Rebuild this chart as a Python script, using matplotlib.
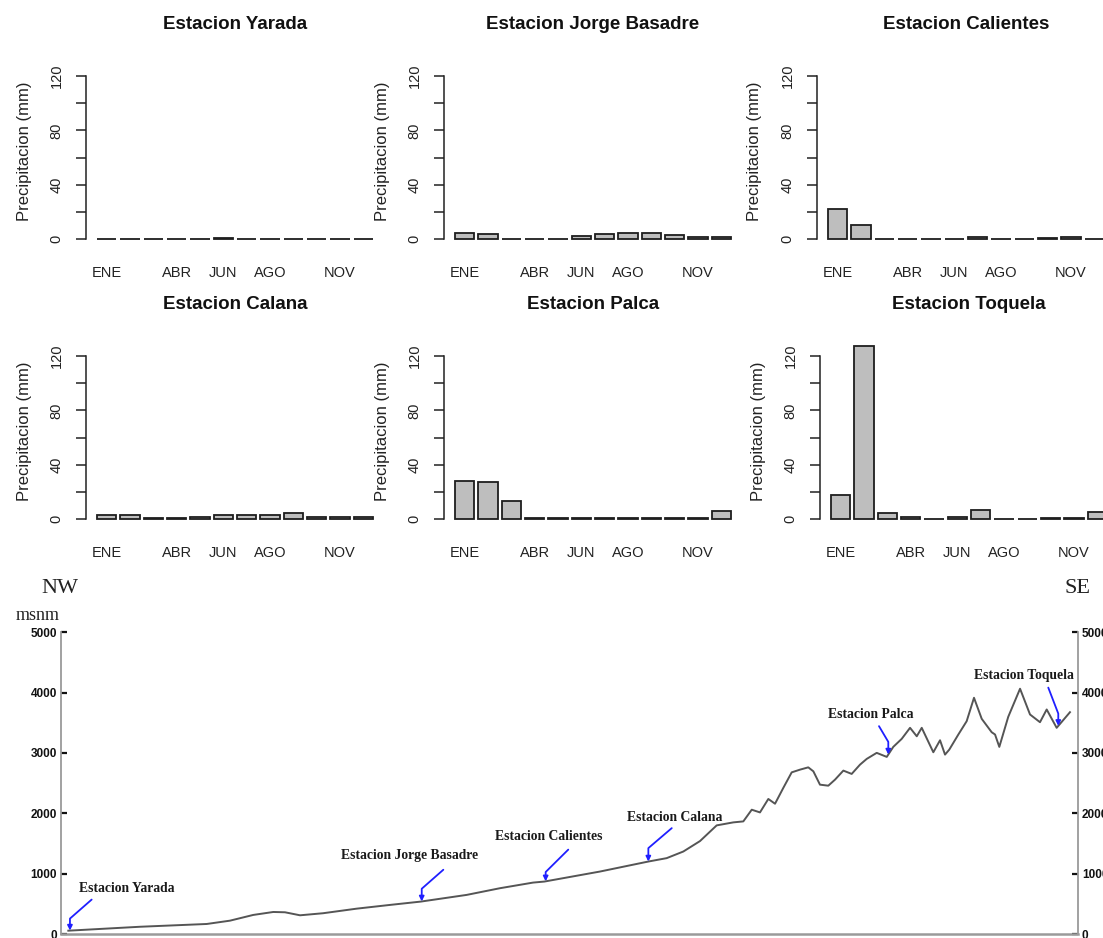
import numpy as np
import matplotlib
matplotlib.use("Agg")
import matplotlib.pyplot as plt

W, H = 1103, 938

months = ['ENE', 'FEB', 'MAR', 'ABR', 'MAY', 'JUN', 'JUL', 'AGO', 'SET', 'OCT', 'NOV', 'DIC']
shown_months = ['ENE', 'ABR', 'JUN', 'AGO', 'NOV']

# mean monthly precipitation (mm)
yarada = [0.2, 0.5, 0.5, 0.3, 0.5, 1.2, 0.5, 0.5, 0.5, 0.5, 0.2, 0.2]
jorge_basadre = [4.4, 4.2, 0.5, 0.5, 0.5, 2.5, 3.9, 4.4, 4.4, 2.9, 1.5, 1.5]
calientes = [22.5, 10.5, 0.3, 0.3, 0.3, 0.3, 1.5, 0.3, 0.3, 0.7, 1.5, 0.5]
calana = [3.4, 3.1, 0.7, 0.7, 1.5, 3.1, 3.3, 3.3, 4.4, 1.5, 1.5, 1.5]
palca = [28.4, 27.4, 13.7, 1.0, 1.0, 1.0, 1.0, 1.0, 1.0, 1.0, 1.0, 6.4]
toquela = [18.1, 127.0, 4.9, 1.7, 0.2, 1.7, 6.9, 0.2, 0.2, 0.7, 0.7, 5.6]

station_titles = ['Estacion Yarada', 'Estacion Jorge Basadre', 'Estacion Calientes',
                  'Estacion Calana', 'Estacion Palca', 'Estacion Toquela']
station_rain = [yarada, jorge_basadre, calientes, calana, palca, toquela]

# NW -> SE elevation profile (distance km, msnm)
profile_km = [0.72, 7.77, 14.33, 16.62, 18.91, 20.88, 22.03, 23.51, 25.77, 29.08,
              32.36, 35.38, 39.90, 43.18, 46.43, 47.54, 53.01, 57.77, 59.57, 61.21,
              62.85, 64.49, 66.13, 67.11, 67.94, 68.75, 69.57, 70.23, 71.04, 71.87,
              72.69, 73.50, 74.00, 74.65, 75.47, 76.13, 76.95, 77.77, 78.59, 79.25,
              80.23, 81.22, 81.86, 82.69, 83.51, 84.17, 84.66, 85.80, 86.46, 86.95,
              87.37, 88.26, 89.08, 89.80, 90.56, 91.54, 91.87, 92.29, 93.17, 94.33,
              95.31, 96.29, 96.95, 97.93, 99.24]
profile_elev = [55, 120, 166, 221, 316, 365, 360, 310, 344, 420,
                482, 537, 648, 759, 852, 869, 1035, 1201, 1257, 1367,
                1540, 1800, 1850, 1866, 2060, 2015, 2238, 2159, 2420, 2679,
                2724, 2762, 2696, 2475, 2458, 2558, 2708, 2653, 2807, 2902,
                3002, 2935, 3101, 3234, 3417, 3277, 3417, 3012, 3211, 2973,
                3056, 3306, 3527, 3915, 3566, 3344, 3306, 3101, 3600, 4065,
                3638, 3510, 3721, 3417, 3676]
station_km = [0.88, 35.48, 47.67, 57.77, 81.37, 98.09]


def add_px_axes(fig, left, top, width, height):
    return fig.add_axes([left / W, 1 - (top + height) / H, width / W, height / H])


def draw_station_bars(fig, axis_x, zero_y, title, values):
    # R barplot look: width 1, space 0.2, 4% padding
    px_x = 19.43
    px_y = 1.3612
    xlo, xhi = -0.368, 14.968
    ylo, yhi = -5.2, 135.2
    width = (xhi - xlo) * px_x
    height = (yhi - ylo) * px_y
    top = zero_y - yhi * px_y
    ax = add_px_axes(fig, axis_x, top, width, height)
    ax.set_facecolor('none')

    x = 0.7 + 1.2 * np.arange(len(months))
    ax.bar(x, values, width=1.0, color='#bebebe', edgecolor='#1e1e1e', linewidth=1.3)
    ax.set_xlim(xlo, xhi)
    ax.set_ylim(ylo, yhi)

    for s in ['top', 'right', 'bottom']:
        ax.spines[s].set_visible(False)
    ax.spines['left'].set_bounds(0, 120)
    ax.spines['left'].set_color('#222222')
    ax.spines['left'].set_linewidth(1.1)

    ax.set_yticks(np.arange(0, 121, 20))
    ax.set_yticklabels(['0', '', '40', '', '80', '', '120'])
    ax.tick_params(axis='y', length=7.2, width=1.1, color='#222222', pad=9,
                   labelsize=10.5, labelcolor='#222222', labelrotation=90)
    for lab in ax.get_yticklabels():
        lab.set_verticalalignment('center')

    ax.set_xticks([x[months.index(m)] for m in shown_months])
    ax.set_xticklabels(shown_months)
    ax.tick_params(axis='x', length=0, pad=14, labelsize=10.5, labelcolor='#222222')

    ax.text(-62 / width, 0.5, 'Precipitacion (mm)', transform=ax.transAxes,
            rotation=90, ha='center', va='center', fontsize=12, color='#222222')
    ax.text(0.5, 1 + 26 / height, title, transform=ax.transAxes, ha='center',
            va='baseline', fontsize=13.5, fontweight='bold', color='#111111')
    return ax


def draw_profile(fig):
    ax = add_px_axes(fig, 61, 632.3, 1016.7, 301.7)
    ax.set_facecolor('none')
    ax.plot(profile_km, profile_elev, color='#555555', lw=1.4)
    ax.set_xlim(0, 100)
    ax.set_ylim(0, 5000)

    ax.spines['top'].set_visible(False)
    for s in ['left', 'right', 'bottom']:
        ax.spines[s].set_color('#9a9a9a')
        ax.spines[s].set_linewidth(1.3)
    ax.spines['bottom'].set_linewidth(1.8)

    ax.set_xticks([])
    ax.set_yticks(np.arange(0, 5001, 1000))
    ax.tick_params(axis='y', direction='in', length=4, width=1.6, color='#111111',
                   left=True, right=True, labelleft=True, labelright=True,
                   pad=3, labelsize=8.5, labelcolor='#111111')
    for t in ax.yaxis.get_major_ticks():
        t.label1.set_fontweight('bold')
        t.label2.set_fontweight('bold')

    # station labels with elbow arrows (offsets in pixels from the arrow tip)
    arrow_start = [(21.7, 31), (21.6, 31.7), (22.6, 31.7), (23.4, 33.4), (-9.3, 28.4), (-10, 38.3)]
    elbow_rise = [12, 12.7, 9.3, 13.4, 12.7, 12.3]
    text_offset = [(57, 42), (-12, 46), (3, 45), (26, 44), (-18, 40), (-34, 50)]
    for name, km, (sx, sy), rise, (tx, ty) in zip(station_titles, station_km,
                                                   arrow_start, elbow_rise, text_offset):
        elev = np.interp(km, profile_km, profile_elev)
        ang = np.degrees(np.arctan2(sy - rise, sx))
        ax.annotate('', xy=(km, elev), xytext=(sx, sy), textcoords='offset pixels',
                    arrowprops=dict(arrowstyle='-|>', color='#1f1fff', lw=1.3,
                                    mutation_scale=7, shrinkA=0, shrinkB=0,
                                    connectionstyle=f'angle,angleA={ang},angleB=90,rad=0'))
        ax.annotate(name, xy=(km, elev), xytext=(tx, ty), textcoords='offset pixels',
                    ha='center', va='center', fontsize=9.8, fontweight='bold',
                    family='Liberation Serif', color='#1a1a1a')
    return ax


if __name__ == "__main__":
    plt.rcParams['font.family'] = ['Liberation Sans', 'DejaVu Sans']
    fig = plt.figure(figsize=(W / 100, H / 100), dpi=100)

    col_x = [[86, 444, 817], [86, 444, 820]]
    row_zero = [239.3, 519.3]
    for i, (title, vals) in enumerate(zip(station_titles, station_rain)):
        r, c = divmod(i, 3)
        draw_station_bars(fig, col_x[r][c], row_zero[r], title, vals)

    draw_profile(fig)

    fig.text(60 / W, 1 - 588 / H, 'NW', family='Liberation Serif', fontsize=16,
             ha='center', va='center', color='#222222')
    fig.text(1077 / W, 1 - 588 / H, 'SE', family='Liberation Serif', fontsize=16,
             ha='center', va='center', color='#222222')
    fig.text(38 / W, 1 - 615 / H, 'msnm', family='Liberation Serif', fontsize=13,
             ha='center', va='center', color='#222222')

    fig.savefig('out.png', dpi=100)
